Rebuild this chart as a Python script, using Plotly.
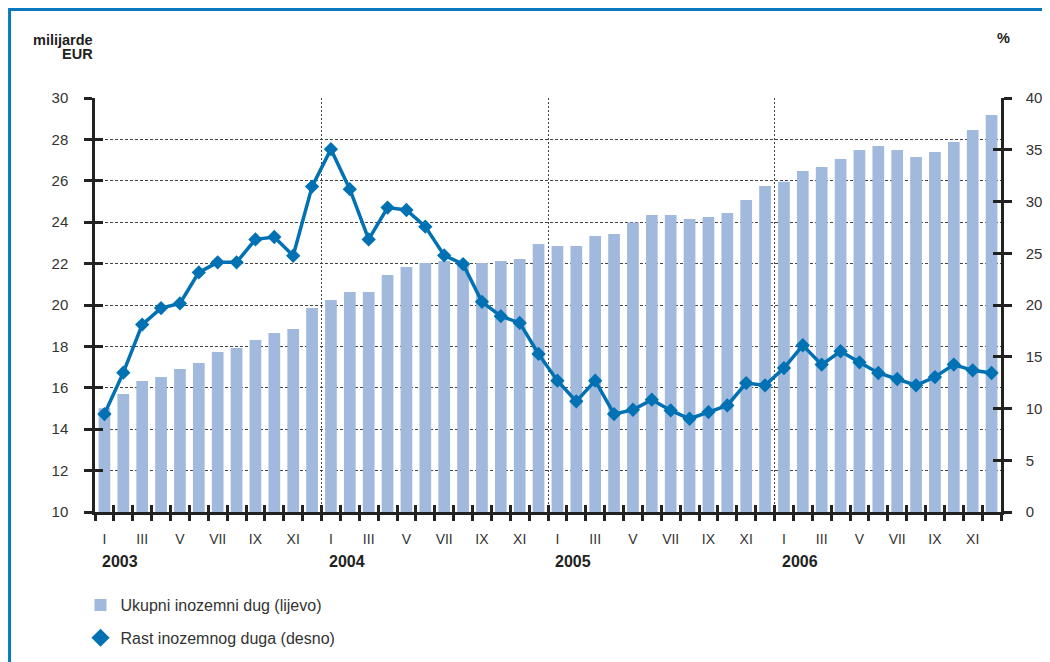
import plotly.graph_objects as go

roman = ["I", "II", "III", "IV", "V", "VI", "VII", "VIII", "IX", "X", "XI", "XII"]
years = ["2003", "2004", "2005", "2006"]

debt = [15.01, 15.70, 16.33, 16.52, 16.91, 17.20, 17.73, 17.92, 18.31, 18.65, 18.84, 19.86,
        20.24, 20.63, 20.63, 21.45, 21.84, 22.03, 22.13, 22.05, 22.03, 22.13, 22.22, 22.95,
        22.85, 22.85, 23.33, 23.43, 23.98, 24.35, 24.35, 24.15, 24.25, 24.44, 25.07, 25.75,
        25.96, 26.47, 26.67, 27.05, 27.49, 27.68, 27.49, 27.15, 27.39, 27.87, 28.45, 29.18]

growth = [9.46, 13.46, 18.11, 19.70, 20.15, 23.15, 24.12, 24.12, 26.34, 26.57, 24.76, 31.44,
          35.06, 31.19, 26.34, 29.41, 29.18, 27.57, 24.79, 23.95, 20.31, 18.92, 18.27, 15.27,
          12.69, 10.69, 12.69, 9.46, 9.88, 10.85, 9.81, 9.01, 9.65, 10.30, 12.46, 12.24,
          13.91, 16.11, 14.24, 15.53, 14.46, 13.43, 12.85, 12.24, 13.04, 14.24, 13.69, 13.43]

name_bar = "Ukupni inozemni dug (lijevo)"
name_line = "Rast inozemnog duga (desno)"

n = len(debt)
x = list(range(n))
tickvals_lab = [i for i in x if i % 2 == 0]
ticktext_lab = [roman[i % 12] for i in tickvals_lab]
bounds = [i - 0.5 for i in range(n + 1)]
year_bounds = [12 * k - 0.5 for k in range(1, len(years))]

BAR = "#a0b9dc"
LINE = "#0071b3"
AX = "#222222"
FONT = "Liberation Sans, Arial, sans-serif"

fig = go.Figure()
fig.add_trace(go.Bar(x=x, y=debt, name=name_bar, marker=dict(color=BAR, line=dict(width=0)),
                     width=0.62, yaxis="y", legend="legend"))
fig.add_trace(go.Scatter(x=x, y=growth, name=name_line, mode="lines+markers", yaxis="y2",
                         line=dict(color=LINE, width=3.5),
                         marker=dict(symbol="diamond", size=11, color=LINE),
                         showlegend=False))
fig.add_trace(go.Scatter(x=[None], y=[None], name=name_line, mode="markers", yaxis="y2",
                         marker=dict(symbol="diamond", size=14, color=LINE), legend="legend2"))

# invisible carriers so that the overlay (decoration) axes are drawn
for xa, ya, yy in [("x2", "y3", debt), ("x3", "y4", growth), ("x4", "y", debt)]:
    fig.add_trace(go.Scatter(x=x, y=yy, xaxis=xa, yaxis=ya, mode="none", showlegend=False,
                             hoverinfo="skip"))

xr = [-0.5, n - 0.5]
grid_dash = "3px,2px"
common = dict(automargin=False)
# the page body has an 8px margin, so the figure is offset by 8px in the screenshot
fig.update_layout(
    width=1050, height=662,
    margin=dict(l=86.5, r=56.5, t=90, b=158, autoexpand=False),
    paper_bgcolor="white", plot_bgcolor="white",
    font=dict(family=FONT, size=15, color="#333"),
    bargap=0.38,
    xaxis=dict(range=xr, tickmode="array", tickvals=tickvals_lab, ticktext=ticktext_lab,
               ticks="", showgrid=False, zeroline=False, showline=True, linecolor=AX,
               linewidth=2.5, tickfont=dict(size=14, color="#333"), ticklabelstandoff=12, **common),
    xaxis2=dict(range=xr, overlaying="x", side="bottom", anchor="y", tickmode="array",
                tickvals=bounds, ticks="outside", ticklen=8, tickwidth=2.5, tickcolor=AX,
                showticklabels=False, showgrid=False, zeroline=False, showline=False, **common),
    xaxis3=dict(range=xr, overlaying="x", side="bottom", anchor="y", tickmode="array",
                tickvals=bounds, ticks="inside", ticklen=7, tickwidth=2.5, tickcolor=AX,
                showticklabels=False, showgrid=False, zeroline=False, showline=False, **common),
    xaxis4=dict(range=xr, overlaying="x", side="bottom", anchor="y", tickmode="array",
                tickvals=year_bounds, ticks="", showticklabels=False, showgrid=True,
                gridcolor="#444", gridwidth=1, griddash="2px,2px", zeroline=False, showline=False,
                **common),
    yaxis=dict(range=[10, 30], tickmode="linear", tick0=10, dtick=2, ticks="outside", ticklen=8,
               tickwidth=2.5, tickcolor=AX, showline=True, linecolor=AX, linewidth=2.5,
               showgrid=True, gridcolor="#444", gridwidth=1, griddash=grid_dash, zeroline=False,
               tickfont=dict(size=15, color="#333"), ticklabelstandoff=13, **common),
    yaxis2=dict(range=[0, 40], overlaying="y", side="right", anchor="x", tickmode="linear",
                tick0=0, dtick=5,
                ticks="outside", ticklen=8, tickwidth=2.5, tickcolor=AX, showline=True,
                linecolor=AX, linewidth=2.5, showgrid=False, zeroline=False,
                tickfont=dict(size=15, color="#333"), ticklabelstandoff=11, **common),
    yaxis3=dict(range=[10, 30], overlaying="y", side="left", anchor="x", tickmode="linear",
                tick0=10, dtick=2, ticks="inside", ticklen=8, tickwidth=2.5, tickcolor=AX,
                showticklabels=False, showgrid=False, zeroline=False, showline=False, **common),
    yaxis4=dict(range=[0, 40], overlaying="y", side="right", anchor="x", tickmode="linear",
                tick0=0, dtick=5, ticks="inside", ticklen=8, tickwidth=2.5, tickcolor=AX,
                showticklabels=False, showgrid=False, zeroline=False, showline=False, **common),
    legend=dict(x=-0.016, y=-0.2246, xanchor="left", yanchor="middle", bgcolor="rgba(0,0,0,0)",
                font=dict(size=16, color="#333"), itemsizing="trace"),
    legend2=dict(x=-0.016, y=-0.304, xanchor="left", yanchor="middle", bgcolor="rgba(0,0,0,0)",
                 font=dict(size=16, color="#333"), itemsizing="trace"),
)

# year labels
for k, yr in enumerate(years):
    fig.add_annotation(x=12 * k - 0.22, y=-0.119, xref="x", yref="paper", text="<b>%s</b>" % yr,
                       showarrow=False, xanchor="left", yanchor="middle",
                       font=dict(size=16, color="#222"))

fig.add_annotation(x=0, y=1.140, xref="paper", yref="paper", text="<b>milijarde</b>",
                   showarrow=False, xanchor="right", yanchor="middle", align="right",
                   font=dict(size=14.5, color="#222"))
fig.add_annotation(x=0, y=1.106, xref="paper", yref="paper", text="<b>EUR</b>",
                   showarrow=False, xanchor="right", yanchor="middle", align="right",
                   font=dict(size=14.5, color="#222"))
fig.add_annotation(x=1.0028, y=1.145, xref="paper", yref="paper", text="<b>%</b>",
                   showarrow=False, xanchor="center", yanchor="middle",
                   font=dict(size=14.5, color="#222"))

# outer frame
fig.add_shape(type="rect", xref="paper", yref="paper", x0=-0.0943, x1=1.2, y0=-0.45, y1=1.214,
              line=dict(color="#0a78bd", width=3), fillcolor="rgba(0,0,0,0)", layer="below")

fig.write_html("out.html")
